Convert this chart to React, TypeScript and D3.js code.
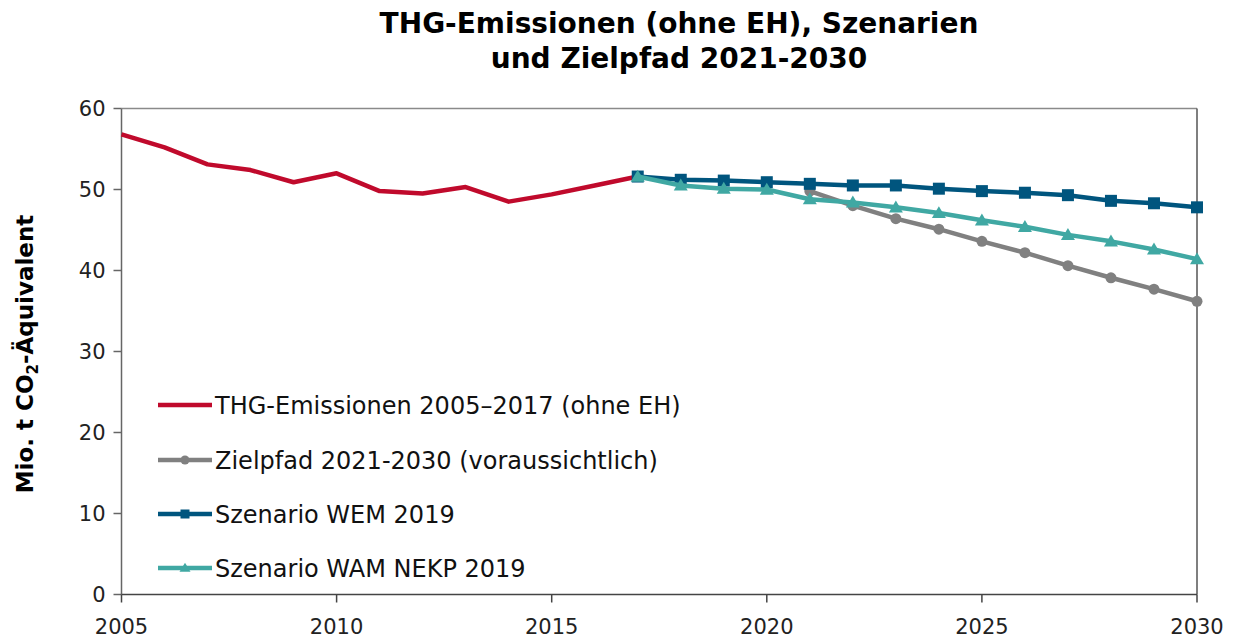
import React from "react";
import * as d3 from "d3";

const yearsHist = [2005, 2006, 2007, 2008, 2009, 2010, 2011, 2012, 2013, 2014, 2015, 2016, 2017];
const histValues = [56.8, 55.2, 53.1, 52.4, 50.9, 52.0, 49.8, 49.5, 50.3, 48.5, 49.4, 50.5, 51.6];

const yearsTarget = [2021, 2022, 2023, 2024, 2025, 2026, 2027, 2028, 2029, 2030];
const targetValues = [49.8, 48.0, 46.4, 45.1, 43.6, 42.2, 40.6, 39.1, 37.7, 36.2];

const yearsScen = [2017, 2018, 2019, 2020, 2021, 2022, 2023, 2024, 2025, 2026, 2027, 2028, 2029, 2030];
const wemValues = [51.6, 51.2, 51.1, 50.9, 50.7, 50.5, 50.5, 50.1, 49.8, 49.6, 49.3, 48.6, 48.3, 47.8];
const wamValues = [51.6, 50.5, 50.1, 50.0, 48.8, 48.4, 47.8, 47.1, 46.2, 45.4, 44.4, 43.6, 42.6, 41.4];

const xTicks = [2005, 2010, 2015, 2020, 2025, 2030];
const yTicks = [0, 10, 20, 30, 40, 50, 60];

const legendLabels = [
  "THG-Emissionen 2005\u20132017 (ohne EH)",
  "Zielpfad 2021-2030 (voraussichtlich)",
  "Szenario WEM 2019",
  "Szenario WAM NEKP 2019",
];

const RED = "#C00A2C";
const GRAY = "#808080";
const BLUE = "#00557E";
const TEAL = "#40A8A3";

const FONT = "'DejaVu Sans', Verdana, sans-serif";

type Marker = "none" | "circle" | "square" | "triangle";

function markerEl(kind: Marker, cx: number, cy: number, size: number, color: string, key: string) {
  if (kind === "circle") return <circle key={key} cx={cx} cy={cy} r={size / 2} fill={color} />;
  if (kind === "square")
    return <rect key={key} x={cx - size / 2} y={cy - size / 2} width={size} height={size} fill={color} />;
  if (kind === "triangle") {
    const h = size * 0.95;
    const p = `M${cx},${cy - h * 0.6} L${cx + size / 2 + 1},${cy + h * 0.45} L${cx - size / 2 - 1},${cy + h * 0.45} Z`;
    return <path key={key} d={p} fill={color} />;
  }
  return null;
}

export default function App() {
  const W = 1239;
  const H = 639;
  const left = 121.5;
  const right = 1197;
  const top = 108.5;
  const bottom = 594.5;

  const x = d3.scaleLinear().domain([2005, 2030]).range([left, right]);
  const y = d3.scaleLinear().domain([0, 60]).range([bottom, top]);

  const line = d3
    .line<[number, number]>()
    .x((d) => x(d[0]))
    .y((d) => y(d[1]));

  const series: { years: number[]; values: number[]; color: string; marker: Marker; size: number }[] = [
    { years: yearsHist, values: histValues, color: RED, marker: "none", size: 0 },
    { years: yearsTarget, values: targetValues, color: GRAY, marker: "circle", size: 11 },
    { years: yearsScen, values: wemValues, color: BLUE, marker: "square", size: 12 },
    { years: yearsScen, values: wamValues, color: TEAL, marker: "triangle", size: 12 },
  ];

  const legendMarkers: Marker[] = ["none", "circle", "square", "triangle"];
  const legendColors = [RED, GRAY, BLUE, TEAL];
  const legendY = [405, 460, 514, 568];

  return (
    <svg width={W} height={H} style={{ display: "block", position: "absolute", left: 0, top: 0, background: "#fff" }}>
      <rect x={0} y={0} width={W} height={H} fill="#fff" />
      {/* title */}
      <text x={679} y={33} textAnchor="middle" fontFamily={FONT} fontWeight="bold" fontSize={28} fill="#000">
        THG-Emissionen (ohne EH), Szenarien
      </text>
      <text x={679} y={68} textAnchor="middle" fontFamily={FONT} fontWeight="bold" fontSize={28} fill="#000">
        und Zielpfad 2021-2030
      </text>

      {/* frame */}
      <line x1={left} x2={right} y1={top} y2={top} stroke="#8a8a8a" strokeWidth={1.5} />
      <line x1={right} x2={right} y1={top} y2={bottom} stroke="#555" strokeWidth={1.5} />

      {/* y axis */}
      <line x1={left} x2={left} y1={top} y2={bottom} stroke="#666" strokeWidth={1.5} />
      {yTicks.map((t) => (
        <g key={"yt" + t}>
          <line x1={left - 8} x2={left} y1={y(t)} y2={y(t)} stroke="#666" strokeWidth={1.5} />
          <text x={left - 16} y={y(t)} dy="0.36em" textAnchor="end" fontFamily={FONT} fontSize={21} fill="#222">
            {t}
          </text>
        </g>
      ))}

      {/* x axis */}
      <line x1={left} x2={right} y1={bottom} y2={bottom} stroke="#444" strokeWidth={1.5} />
      {xTicks.map((t) => (
        <g key={"xt" + t}>
          <line x1={x(t)} x2={x(t)} y1={bottom} y2={bottom + 8} stroke="#444" strokeWidth={1.5} />
          <text x={x(t)} y={634} textAnchor="middle" fontFamily={FONT} fontSize={21} fill="#222">
            {t}
          </text>
        </g>
      ))}

      {/* y axis title */}
      <text
        transform={`translate(33,354) rotate(-90)`}
        textAnchor="middle"
        fontFamily={FONT}
        fontWeight="bold"
        fontSize={23}
        fill="#000"
      >
        Mio. t CO<tspan fontSize={15} dy={5}>2</tspan>
        <tspan dy={-5}>-Äquivalent</tspan>
      </text>

      {/* series */}
      {series.map((s, i) => {
        const pts: [number, number][] = s.years.map((yr, j) => [yr, s.values[j]]);
        return (
          <g key={"s" + i}>
            <path d={line(pts) || ""} fill="none" stroke={s.color} strokeWidth={4.5} strokeLinejoin="round" />
            {pts.map((p, j) => markerEl(s.marker, x(p[0]), y(p[1]), s.size, s.color, `m${i}-${j}`))}
          </g>
        );
      })}

      {/* legend */}
      {legendLabels.map((lab, i) => (
        <g key={"lg" + i}>
          <line x1={158} x2={212} y1={legendY[i]} y2={legendY[i]} stroke={legendColors[i]} strokeWidth={4.5} />
          {markerEl(legendMarkers[i], 185, legendY[i], 9, legendColors[i], "lm" + i)}
          <text x={215} y={legendY[i]} dy="0.36em" fontFamily={FONT} fontSize={24} fill="#111">
            {lab}
          </text>
        </g>
      ))}
    </svg>
  );
}
